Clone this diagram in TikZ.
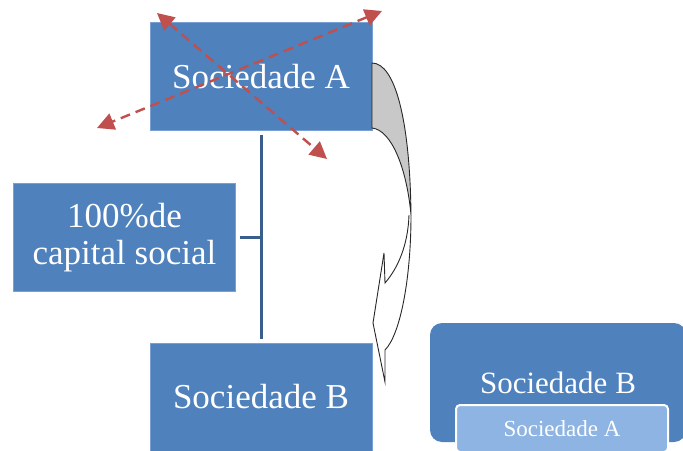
\documentclass[tikz,border=0pt]{standalone}
\usepackage{fontspec}
\setmainfont{Liberation Serif}
\usetikzlibrary{arrows.meta}
\definecolor{boxblue}{RGB}{79,129,189}
\definecolor{boxedge}{RGB}{120,160,210}
\definecolor{linkblue}{RGB}{58,94,140}
\definecolor{crossred}{RGB}{192,80,77}
\definecolor{lightblue}{RGB}{142,180,227}
\definecolor{arrowgray}{RGB}{200,200,200}

\begin{document}
\begin{tikzpicture}[x=1pt, y=-1pt,
	main/.style={draw=boxedge, fill=boxblue, text=white, minimum width=222pt, minimum height=108pt, inner sep=0pt, align=center, font=\fontsize{35}{37}\selectfont},
	link/.style={draw=linkblue, line width=3pt},
	cross/.style={crossred, line width=2.4pt, dash pattern=on 10pt off 6pt, {Triangle[length=17pt,width=17pt]}-{Triangle[length=17pt,width=17pt]}},
	turn/.style={draw=black!85, line width=0.9pt}]
		\useasboundingbox (0,0) rectangle (683,450);

		\node[main] (1) at (261,76.5) {Sociedade A};
		\node[main] (2) at (124.5,237.5) {100\%de\\capital social};
		\node[main] (3) at (261,397) {Sociedade B};
		\node[fill=boxblue, rounded corners=12pt, minimum width=256pt, minimum height=119pt, text=white, font=\fontsize{31}{34}\selectfont] (4) at (558,382.5) {Sociedade B};
		\node[draw=white, line width=2pt, fill=lightblue, rounded corners=4pt, minimum width=212pt, minimum height=47pt, text=white, font=\fontsize{23}{26}\selectfont] (5) at (562,428.5) {Sociedade A};

		\draw[link, shorten <=4pt, shorten >=4pt] (1) -- (3);
		\draw[link, shorten <=4pt] (2.east) -- (2.east -| 1.south);

		\filldraw[turn, fill=white] (411,215) .. controls (411,280) and (400,335) .. (385,350) -- (385,382) -- (373,323) -- (384,253) -- (385,283) .. controls (398,268) and (408,245) .. (409,215);
		\filldraw[turn, fill=arrowgray] (372,63) .. controls (395,63) and (410,120) .. (411,215) .. controls (407,170) and (392,130) .. (372,128) -- cycle;

		\coordinate (6) at (157,13);
		\coordinate (7) at (327,159);
		\coordinate (8) at (382,11);
		\coordinate (9) at (97,128);
		\draw[cross] (6) -- (7);
		\draw[cross] (8) -- (9);

	\end{tikzpicture}
\end{document}
